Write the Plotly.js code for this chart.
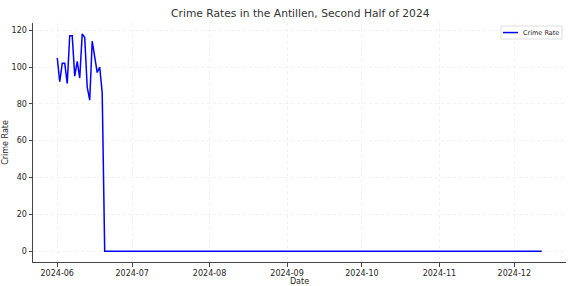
<!DOCTYPE html>
<html>
<head>
<meta charset="utf-8">
<script src="https://cdn.plot.ly/plotly-3.0.1.min.js"></script>
<style>html,body{margin:0;padding:0;background:#fff;}#chart{width:582px;height:286px;}</style>
</head>
<body>
<div id="chart"></div>
<script>
const startDate = '2024-06-01';
const endDate = '2024-12-12';
const crimeRate = [
  105, 92, 102, 102, 91, 117, 117, 95, 103, 94,
  118, 116, 89, 82, 114, 104, 97, 100, 86, 0,
  0, 0, 0, 0, 0, 0, 0, 0, 0, 0, 0, 0, 0, 0, 0, 0, 0, 0, 0, 0,
  0, 0, 0, 0, 0, 0, 0, 0, 0, 0, 0, 0, 0, 0, 0, 0, 0, 0, 0, 0,
  0, 0, 0, 0, 0, 0, 0, 0, 0, 0, 0, 0, 0, 0, 0, 0, 0, 0, 0, 0,
  0, 0, 0, 0, 0, 0, 0, 0, 0, 0, 0, 0, 0, 0, 0, 0, 0, 0, 0, 0,
  0, 0, 0, 0, 0, 0, 0, 0, 0, 0, 0, 0, 0, 0, 0, 0, 0, 0, 0, 0,
  0, 0, 0, 0, 0, 0, 0, 0, 0, 0, 0, 0, 0, 0, 0, 0, 0, 0, 0, 0,
  0, 0, 0, 0, 0, 0, 0, 0, 0, 0, 0, 0, 0, 0, 0, 0, 0, 0, 0, 0,
  0, 0, 0, 0, 0, 0, 0, 0, 0, 0, 0, 0, 0, 0, 0, 0, 0, 0, 0, 0,
  0, 0, 0, 0, 0, 0, 0, 0, 0, 0, 0, 0, 0, 0, 0
];
const tickDates = ['2024-06-01','2024-07-01','2024-08-01','2024-09-01','2024-10-01','2024-11-01','2024-12-01'];
const tickLabels = ['2024-06','2024-07','2024-08','2024-09','2024-10','2024-11','2024-12'];
const yTicks = [0, 20, 40, 60, 80, 100, 120];
const seriesName = 'Crime Rate';
const lineColor = '#0000ff';

// daily date sequence for x categories
const dates = [];
{
  const d = new Date(startDate + 'T00:00:00Z');
  const end = new Date(endDate + 'T00:00:00Z');
  while (d <= end) { dates.push(d.toISOString().slice(0,10)); d.setUTCDate(d.getUTCDate()+1); }
}

const font = {family: 'DejaVu Sans, sans-serif', color: '#262626'};
const trace = {
  x: dates, y: crimeRate, type: 'scatter', mode: 'lines', name: seriesName,
  line: {color: lineColor, width: 1.5}
};
const layout = {
  width: 582, height: 286,
  margin: {l: 33, r: 16, t: 23, b: 24},
  paper_bgcolor: '#fff', plot_bgcolor: '#fff',
  font: Object.assign({size: 8}, font),
  title: {text: 'Crime Rates in the Antillen, Second Half of 2024', font: Object.assign({}, font, {size: 10.7, color: '#333'}), x: 0.516, xanchor: 'center', y: 0.952, yanchor: 'middle'},
  xaxis: {
    type: 'date', range: ['2024-05-22 07:00', '2024-12-21 17:00'],
    tickvals: tickDates, ticktext: tickLabels,
    showgrid: true, gridcolor: '#eeeeee', gridwidth: 0.8, griddash: 'dot',
    showline: true, linecolor: '#444', linewidth: 1,
    ticks: 'outside', ticklen: 3.5, tickcolor: '#444',
    tickfont: Object.assign({size: 8}, font),
    title: {text: 'Date', font: Object.assign({size: 8}, font), standoff: 0},
    zeroline: false
  },
  yaxis: {
    range: [-5.9, 123.9], tickvals: yTicks,
    showgrid: true, gridcolor: '#eeeeee', gridwidth: 0.8, griddash: 'dot',
    showline: true, linecolor: '#444', linewidth: 1,
    ticks: 'outside', ticklen: 3.5, tickcolor: '#444',
    tickfont: Object.assign({size: 8}, font),
    title: {text: 'Crime Rate', font: Object.assign({size: 8}, font), standoff: 1},
    zeroline: false
  },
  showlegend: false,
  shapes: [
    {type: 'rect', xref: 'paper', yref: 'paper', x0: 0.878, x1: 0.9925, y0: 0.933, y1: 0.9874,
     line: {color: '#d6d6d6', width: 0.8}, fillcolor: 'rgba(255,255,255,0.85)'},
    {type: 'line', xref: 'paper', yref: 'paper', x0: 0.8818, x1: 0.910, y0: 0.960, y1: 0.960,
     line: {color: lineColor, width: 1.5}}
  ],
  annotations: [
    {xref: 'paper', yref: 'paper', x: 0.9165, y: 0.960, xanchor: 'left', yanchor: 'middle',
     text: seriesName, showarrow: false, font: Object.assign({size: 6.5}, font)}
  ]
};
Plotly.newPlot('chart', [trace], layout, {staticPlot: true, displayModeBar: false});
</script>
</body>
</html>
